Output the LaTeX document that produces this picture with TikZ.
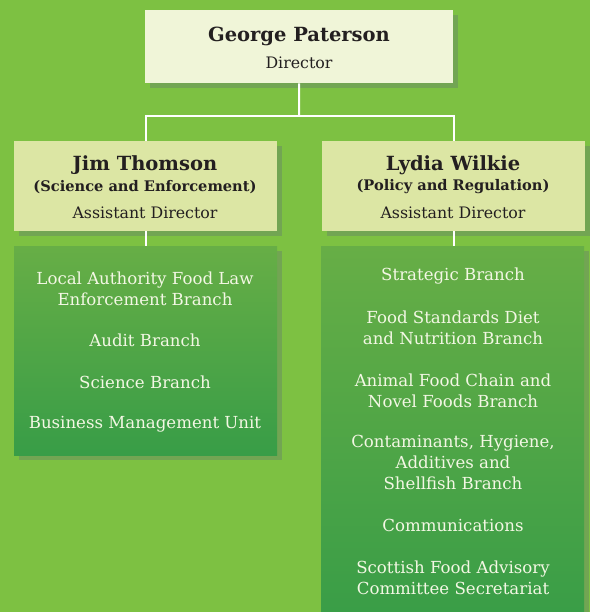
\documentclass[tikz,border=0pt]{standalone}
\usepackage{fontspec}
\setmainfont{DejaVu Serif}
\usetikzlibrary{shadows}
\definecolor{bggreen}{HTML}{7DC142}
\definecolor{shadowgreen}{HTML}{72A553}
\definecolor{topfill}{HTML}{F0F5D8}
\definecolor{midfill}{HTML}{DCE6A4}
\definecolor{gradtop}{HTML}{67AE46}
\definecolor{gradbot}{HTML}{389D47}
\definecolor{darktext}{HTML}{231F20}
\definecolor{lighttext}{HTML}{F3F7E4}
\tikzset{
  x=1pt,y=-1pt,
  boxshadow/.style={drop shadow={fill=shadowgreen,opacity=1,shadow xshift=5pt,shadow yshift=-5pt}},
  headbox/.style={rectangle,anchor=north west,inner sep=0pt,fill=#1,boxshadow},
  listbox/.style={rectangle,anchor=north west,inner sep=0pt,top color=gradtop,bottom color=gradbot,boxshadow},
  nametext/.style={text=darktext,font=\bfseries\fontsize{19.5}{22}\selectfont},
  subtext/.style={text=darktext,font=\bfseries\fontsize{14.6}{17}\selectfont},
  roletext/.style={text=darktext,font=\fontsize{15.8}{18}\selectfont},
  itemtext/.style={text=lighttext,align=center,font=\fontsize{16.6}{21}\selectfont},
  link/.style={draw=white,line width=2pt}
}
\begin{document}
\begin{tikzpicture}
\useasboundingbox (0,0) rectangle (590,612);
\fill[bggreen] (0,0) rectangle (590,612);
% boxes
\node[headbox=topfill,minimum width=308pt,minimum height=73pt] (top) at (145,10) {};
\node[headbox=midfill,minimum width=263pt,minimum height=90pt] (left) at (14,141) {};
\node[headbox=midfill,minimum width=263pt,minimum height=90pt] (right) at (322,141) {};
\node[listbox,minimum width=263pt,minimum height=209pt] (leftlist) at (14,246) {};
\node[listbox,minimum width=263pt,minimum height=380pt] (rightlist) at (321,246) {};
% connectors
\coordinate (bus) at (299,116);
\draw[link] (top.south) -- (bus);
\draw[link] (left.north) |- (bus) -| (right.north);
\draw[link] (left.south) -- (leftlist.north -| left.south);
\draw[link] (right.south) -- (rightlist.north -| right.south);
% top text
\node[nametext] (gp) at (299,36) {George Paterson};
\node[roletext] (gpr) at (299,63) {Director};
\node[nametext] (jt) at (145,165) {Jim Thomson};
\node[subtext] (jts) at (145,187) {(Science and Enforcement)};
\node[roletext] (jtr) at (145,213) {Assistant Director};
\node[nametext] (lw) at (453,165) {Lydia Wilkie};
\node[subtext] (lws) at (453,187) {(Policy and Regulation)};
\node[roletext] (lwr) at (453,213) {Assistant Director};
% left list
\node[itemtext] (l1) at (145,288.5) {Local Authority Food Law\\Enforcement Branch};
\node[itemtext] (l2) at (145,340) {Audit Branch};
\node[itemtext] (l3) at (145,382) {Science Branch};
\node[itemtext] (l4) at (145,424) {Business Management Unit};
% right list
\node[itemtext] (r1) at (453,276) {Strategic Branch};
\node[itemtext] (r2) at (453,328) {Food Standards Diet\\and Nutrition Branch};
\node[itemtext] (r3) at (453,390.5) {Animal Food Chain and\\Novel Foods Branch};
\node[itemtext] (r4) at (453,462.5) {Contaminants, Hygiene,\\Additives and\\Shellfish Branch};
\node[itemtext] (r5) at (453,525) {Communications};
\node[itemtext] (r6) at (453,577.5) {Scottish Food Advisory\\Committee Secretariat};
\end{tikzpicture}
\end{document}
